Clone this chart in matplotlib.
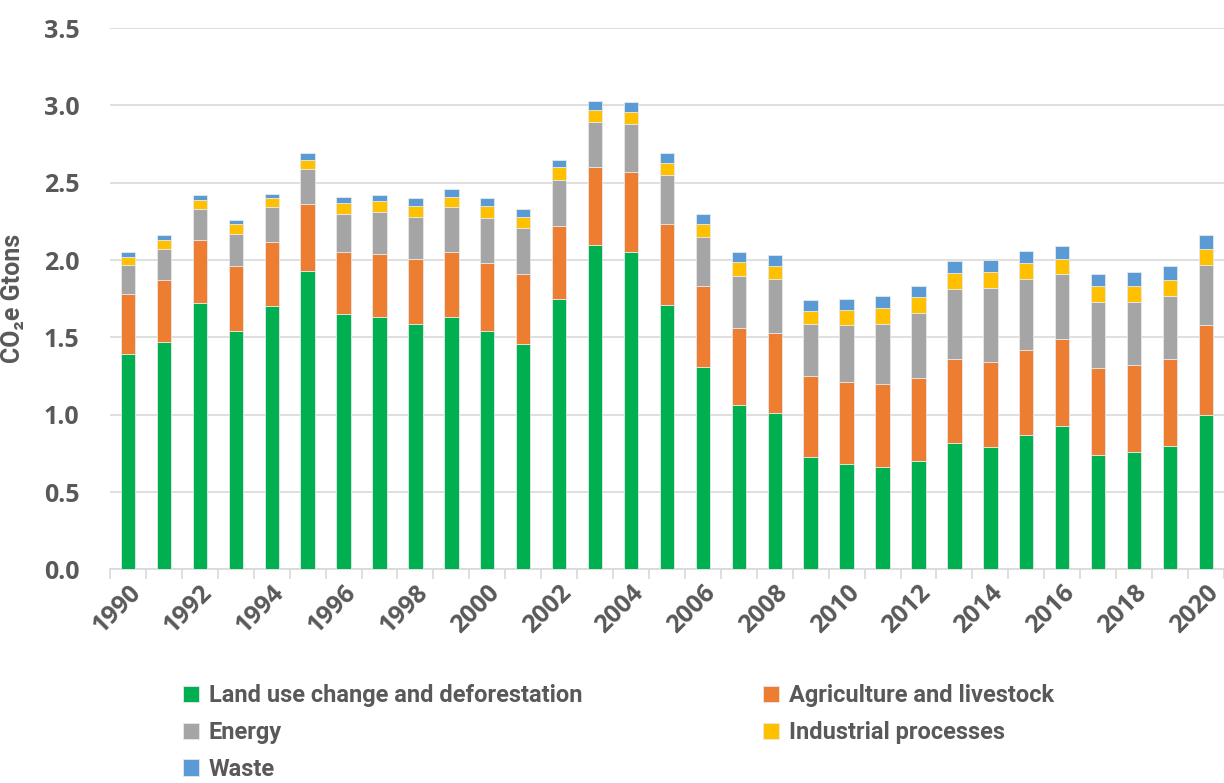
import numpy as np
import matplotlib
matplotlib.use('Agg')
import matplotlib.pyplot as plt

# Datos por sector (Gt CO2e)
years = list(range(1990, 2021))
land_use = [1.39, 1.47, 1.72, 1.54, 1.70, 1.93, 1.65, 1.63, 1.59, 1.63,
            1.54, 1.46, 1.75, 2.10, 2.05, 1.71, 1.31, 1.06, 1.01, 0.73,
            0.68, 0.66, 0.70, 0.82, 0.79, 0.87, 0.93, 0.74, 0.76, 0.80, 1.00]
agriculture = [0.39, 0.40, 0.41, 0.42, 0.42, 0.43, 0.40, 0.41, 0.42, 0.42,
               0.44, 0.45, 0.47, 0.50, 0.52, 0.52, 0.52, 0.50, 0.52, 0.52,
               0.53, 0.54, 0.54, 0.54, 0.55, 0.55, 0.56, 0.56, 0.56, 0.56, 0.58]
energy = [0.19, 0.20, 0.20, 0.21, 0.22, 0.23, 0.25, 0.27, 0.27, 0.29,
          0.29, 0.30, 0.30, 0.29, 0.31, 0.32, 0.32, 0.34, 0.35, 0.34,
          0.37, 0.39, 0.42, 0.455, 0.48, 0.46, 0.42, 0.43, 0.41, 0.41, 0.39]
industrial = [0.05, 0.06, 0.06, 0.06, 0.06, 0.06, 0.07, 0.07, 0.07, 0.07,
              0.08, 0.07, 0.08, 0.08, 0.08, 0.08, 0.08, 0.09, 0.08, 0.08,
              0.10, 0.10, 0.10, 0.10, 0.10, 0.10, 0.10, 0.10, 0.10, 0.10, 0.10]
waste = [0.03, 0.03, 0.03, 0.03, 0.03, 0.04, 0.04, 0.04, 0.05, 0.05,
         0.05, 0.05, 0.05, 0.06, 0.06, 0.06, 0.07, 0.06, 0.07, 0.07,
         0.07, 0.08, 0.07, 0.08, 0.08, 0.08, 0.08, 0.08, 0.09, 0.09, 0.09]

series = [
    ('Land use change and deforestation', land_use, '#00B050'),
    ('Agriculture and livestock', agriculture, '#ED7D31'),
    ('Energy', energy, '#A5A5A5'),
    ('Industrial processes', industrial, '#FFC000'),
    ('Waste', waste, '#5B9BD5'),
]

plt.rcParams['font.family'] = ['Open Sans', 'DejaVu Sans']
text_color = '#595959'
narrow = ['Roboto', 'DejaVu Sans']

fig = plt.figure(figsize=(12.24, 7.83), dpi=100)
ax = fig.add_axes([0.0899, 0.2727, 0.91, 0.6915])

x = np.arange(len(years))
bottom = np.zeros(len(years))
handles = {}
for name, vals, color in series:
    vals = np.array(vals)
    b = ax.bar(x, vals, width=0.4, bottom=bottom, color=color,
               edgecolor='#e8e8e8', linewidth=0.6, label=name, zorder=3)
    handles[name] = b
    bottom += vals

ax.set_ylim(0, 3.5)
ax.set_xlim(-0.5, 30.45)
ax.set_yticks(np.arange(0, 3.51, 0.5))
ax.set_yticklabels(['{:.1f}'.format(v) for v in np.arange(0, 3.51, 0.5)],
                   fontsize=18, fontweight='bold', color=text_color)
ax.yaxis.grid(True, color='#d9d9d9', linewidth=1.2, zorder=0)
ax.tick_params(axis='y', length=0, pad=22)

# Etiquetas de anios cada dos, marcas entre categorias
ax.set_xticks(x[::2])
ax.set_xticklabels([str(y) for y in years[::2]], rotation=45, ha='right',
                   rotation_mode='anchor', fontsize=18, fontweight='bold',
                   color=text_color)
ax.tick_params(axis='x', length=0, pad=8)
ax.set_xticks(np.arange(-0.5, 30.6, 1), minor=True)
ax.tick_params(axis='x', which='minor', length=7, color='#d9d9d9', width=1.2)

for s in ['top', 'right', 'left']:
    ax.spines[s].set_visible(False)
ax.spines['bottom'].set_color('#d9d9d9')
ax.spines['bottom'].set_linewidth(1.2)

ax.set_ylabel('CO\u2082e Gtons', fontsize=18, fontweight='bold',
              color=text_color, family=narrow)
ax.yaxis.set_label_coords(-0.076, 0.5)

order = ['Land use change and deforestation', 'Energy', 'Waste',
         'Agriculture and livestock', 'Industrial processes']
leg = fig.legend([handles[n] for n in order], order, ncol=2,
                 loc='upper left', bbox_to_anchor=(0.132, 0.153),
                 frameon=False, handlelength=0.7, handleheight=0.7,
                 handletextpad=0.4, columnspacing=7.65, labelspacing=0.58,
                 prop={'size': 17, 'weight': 'bold', 'family': narrow})
for t in leg.get_texts():
    t.set_color(text_color)

fig.savefig('out.png', dpi=100)
